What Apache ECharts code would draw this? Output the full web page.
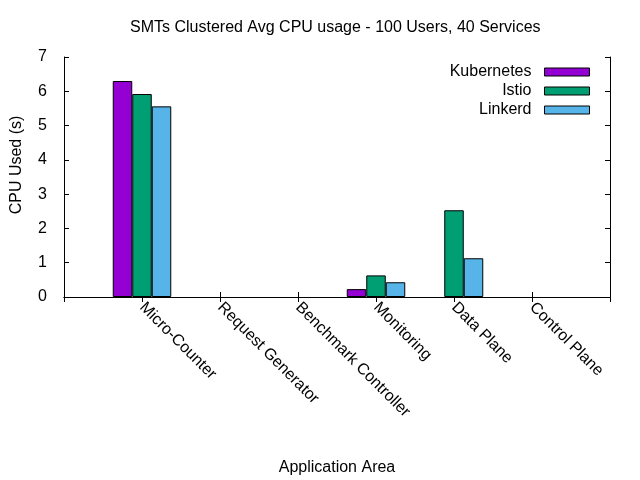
<!DOCTYPE html>
<html>
<head>
<meta charset="utf-8">
<script src="https://cdn.jsdelivr.net/npm/echarts@6/dist/echarts.min.js"></script>
<style>
  html, body { margin: 0; padding: 0; background: #fff; }
  #chart { width: 640px; height: 480px; }
</style>
</head>
<body>
<div id="chart"></div>
<script>
// chart data
const categories = ['Micro-Counter', 'Request Generator', 'Benchmark Controller', 'Monitoring', 'Data Plane', 'Control Plane'];
const kubernetes = [6.30, 0, 0, 0.23, 0, 0];
const istio = [5.92, 0, 0, 0.63, 2.53, 0];
const linkerd = [5.56, 0, 0, 0.43, 1.13, 0];
const yTicks = [0, 1, 2, 3, 4, 5, 6, 7];

// gnuplot leaves one empty slot on each side of the clusters;
// zero bars sit on the axis and are not visible there
const pad = arr => [null].concat(arr.map(v => (v === 0 ? null : v)), [null]);
const xData = [''].concat(categories, ['']);

const font = 'Liberation Sans, Arial, sans-serif';
const fs = 16;
const chart = echarts.init(document.getElementById('chart'), null, { renderer: 'canvas' });

const barStyle = color => ({ color: color, borderColor: '#000', borderWidth: 1 });

const tickAxisX = {
  type: 'category',
  data: xData,
  boundaryGap: false,
  axisLine: { show: true, lineStyle: { color: '#000', width: 1 } },
  axisTick: { show: true, inside: true, length: 5, interval: 0, lineStyle: { color: '#000' } },
  splitLine: { show: false }
};

const tickAxisY = {
  type: 'value',
  min: yTicks[0],
  max: yTicks[yTicks.length - 1],
  interval: 1,
  axisLine: { show: true, lineStyle: { color: '#000', width: 1 } },
  axisTick: { show: true, inside: true, length: 5, lineStyle: { color: '#000' } },
  splitLine: { show: false }
};

chart.setOption({
  backgroundColor: '#fff',
  animation: false,
  textStyle: { fontFamily: font },
  title: {
    text: 'SMTs Clustered Avg CPU usage - 100 Users, 40 Services',
    left: 125,
    top: 15,
    textStyle: { fontFamily: font, fontSize: fs, fontWeight: 'normal', color: '#000' }
  },
  legend: {
    orient: 'vertical',
    right: 50,
    top: 64,
    padding: 0,
    align: 'right',
    itemWidth: 45,
    itemHeight: 8,
    itemGap: 3,
    icon: 'rect',
    itemStyle: { borderColor: '#000', borderWidth: 1 },
    textStyle: { fontFamily: font, fontSize: fs, color: '#000', padding: [0, 8, 0, 0] },
    data: ['Kubernetes', 'Istio', 'Linkerd']
  },
  grid: { left: 64, right: 30, top: 57, bottom: 183, outerBoundsMode: 'none', containLabel: false },
  xAxis: [
    Object.assign({}, tickAxisX, {
      position: 'bottom',
      name: 'Application Area',
      nameLocation: 'middle',
      nameGap: 163,
      nameTextStyle: { fontFamily: font, fontSize: fs, color: '#000' },
      axisLabel: { interval: 0, rotate: -45, margin: 8, fontFamily: font, fontSize: fs, color: '#000' }
    }),
    Object.assign({}, tickAxisX, { position: 'top', axisLabel: { show: false } })
  ],
  yAxis: [
    Object.assign({}, tickAxisY, {
      position: 'left',
      axisLabel: { margin: 17, fontFamily: font, fontSize: fs, color: '#000' }
    }),
    Object.assign({}, tickAxisY, { position: 'right', axisLabel: { show: false } })
  ],
  graphic: [{
    type: 'text',
    x: 17,
    y: 165,
    rotation: Math.PI / 2,
    style: {
      text: 'CPU Used (s)',
      font: fs + 'px ' + font,
      fill: '#000',
      textAlign: 'center',
      textVerticalAlign: 'middle'
    }
  }],
  series: [
    { name: 'Kubernetes', type: 'bar', data: pad(kubernetes), barWidth: 19.5, barGap: '0%', itemStyle: barStyle('#9400d3') },
    { name: 'Istio', type: 'bar', data: pad(istio), barWidth: 19.5, barGap: '0%', itemStyle: barStyle('#009e73') },
    { name: 'Linkerd', type: 'bar', data: pad(linkerd), barWidth: 19.5, barGap: '0%', itemStyle: barStyle('#56b4e9') }
  ]
});
</script>
</body>
</html>
